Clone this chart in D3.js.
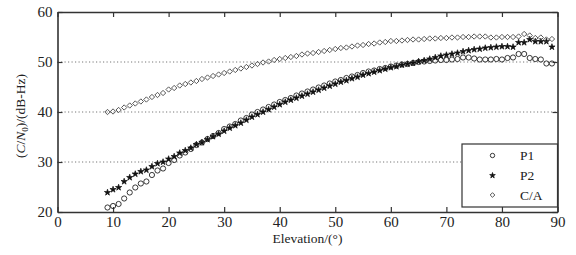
<!DOCTYPE html>
<html><head><meta charset="utf-8">
<script src="https://cdn.jsdelivr.net/npm/d3@7"></script>
<style>body{margin:0;background:#fff}svg{display:block}svg text{font-family:"Times New Roman","Liberation Serif",serif !important;fill:#222}</style>
</head><body><svg id="c" width="576" height="255" font-family="Liberation Serif"></svg>
<script>
const elevation = d3.range(9, 90);
const p1 = [20.9,21.2,21.6,22.7,23.9,24.9,25.7,26.1,27.4,28.3,28.7,29.8,30.4,31.3,31.9,32.6,33.4,33.9,34.6,35.2,35.8,36.6,37.1,37.6,38.3,38.8,39.5,40.0,40.5,41.0,41.5,42.0,42.4,42.8,43.3,43.7,44.1,44.5,44.9,45.3,45.7,46.1,46.4,46.8,47.1,47.4,47.8,48.1,48.3,48.6,48.8,49.1,49.3,49.5,49.6,49.8,50.0,50.1,50.2,50.3,50.4,50.4,50.5,50.6,50.9,50.9,50.7,50.5,50.5,50.5,50.6,50.5,50.8,50.9,51.6,51.6,50.8,50.6,50.5,49.7,49.7];
const p2 = [23.9,24.5,24.9,26.1,26.9,27.6,28.1,28.4,29.1,29.7,30.0,30.6,31.1,31.8,32.3,32.8,33.5,33.9,34.5,35.1,35.6,36.2,36.8,37.3,37.8,38.4,39.0,39.5,40.0,40.5,41.0,41.5,42.0,42.4,42.8,43.2,43.6,44.0,44.4,44.8,45.2,45.6,46.0,46.3,46.7,47.0,47.4,47.7,48.0,48.3,48.6,48.9,49.1,49.4,49.6,49.8,50.1,50.3,50.6,50.9,51.2,51.4,51.6,51.8,52.1,52.3,52.5,52.6,52.8,52.9,53.0,53.1,53.1,53.0,53.9,53.9,54.5,54.1,54.1,54.1,53.0];
const ca = [40.0,40.1,40.4,40.9,41.3,41.7,42.1,42.5,43.0,43.4,43.8,44.5,44.8,45.3,45.6,45.9,46.2,46.6,46.9,47.2,47.5,47.8,48.1,48.4,48.7,49.0,49.3,49.6,49.9,50.1,50.4,50.6,50.8,51.0,51.2,51.5,51.7,51.8,52.0,52.2,52.4,52.6,52.8,52.9,53.1,53.3,53.4,53.6,53.7,53.9,54.0,54.2,54.2,54.3,54.4,54.5,54.5,54.6,54.7,54.7,54.8,54.8,54.9,54.9,55.0,55.0,55.1,55.1,55.1,54.9,54.9,55.0,55.0,55.0,55.1,55.6,55.3,54.8,54.9,54.5,54.6];
const xTicks = [0,10,20,30,40,50,60,70,80,90];
const yTicks = [20,30,40,50,60];
const gridVals = [30,40,50];
const seriesNames = ["P1","P2","C/A"];

const svg = d3.select("#c");
const L=57.5, R=557.5, T=12, B=212;
const x = d3.scaleLinear().domain([0,90]).range([L,R]);
const y = d3.scaleLinear().domain([20,60]).range([B,T]);

svg.append("g").selectAll("line").data(gridVals).join("line")
  .attr("x1",L).attr("x2",R).attr("y1",d=>y(d)).attr("y2",d=>y(d))
  .attr("stroke","#777").attr("stroke-width",1).attr("stroke-dasharray","1.2,2.3");

const fs = 15;
const axB = svg.append("g").attr("transform",`translate(0,${B})`)
  .call(d3.axisBottom(x).tickValues(xTicks).tickSize(-5).tickPadding(4).tickSizeOuter(0));
const axT = svg.append("g").attr("transform",`translate(0,${T})`)
  .call(d3.axisTop(x).tickValues(xTicks).tickSize(-5).tickFormat("").tickSizeOuter(0));
const axL = svg.append("g").attr("transform",`translate(${L},0)`)
  .call(d3.axisLeft(y).tickValues(yTicks).tickSize(-5).tickPadding(5).tickSizeOuter(0));
const axR = svg.append("g").attr("transform",`translate(${R},0)`)
  .call(d3.axisRight(y).tickValues(yTicks).tickSize(-5).tickFormat("").tickSizeOuter(0));
[axB,axT,axL,axR].forEach(g=>{
  g.attr("font-family",null).attr("font-size",null);
  g.select(".domain").attr("stroke","#333").attr("stroke-width",1.6);
  g.selectAll(".tick line").attr("stroke","#333").attr("stroke-width",1.2);
  g.selectAll("text").attr("font-size",fs).attr("fill","#222");
});

const diaType = d3.symbolDiamond2 || d3.symbolDiamond;

svg.append("g").selectAll("circle").data(elevation).join("circle")
  .attr("cx",(d)=>x(d)).attr("cy",(d,i)=>y(p1[i])).attr("r",2.6)
  .attr("fill","none").attr("stroke","#222").attr("stroke-width",0.9);
const star = d3.symbol().type(d3.symbolStar).size(12);
svg.append("g").selectAll("path").data(elevation).join("path")
  .attr("transform",(d,i)=>`translate(${x(d)},${y(p2[i])})`).attr("d",star)
  .attr("fill","#111").attr("stroke","#111").attr("stroke-width",0.7);
const diamond = d3.symbol().type(diaType).size(18);
svg.append("g").selectAll("path").data(elevation).join("path")
  .attr("transform",(d,i)=>`translate(${x(d)},${y(ca[i])})`).attr("d",diamond)
  .attr("fill","none").attr("stroke","#444").attr("stroke-width",0.9);

const lg = svg.append("g");
lg.append("rect").attr("x",462).attr("y",144).attr("width",95.5).attr("height",63)
  .attr("fill","#fff").attr("stroke","#333").attr("stroke-width",1.2);
const ly = [155.5,175.5,195];
seriesNames.forEach((n,i)=>{
  const mx=492.5;
  if(i===0) lg.append("circle").attr("cx",mx).attr("cy",ly[i]).attr("r",2.2).attr("fill","none").attr("stroke","#222").attr("stroke-width",0.9);
  if(i===1) lg.append("path").attr("transform",`translate(${mx},${ly[i]})`).attr("d",d3.symbol().type(d3.symbolStar).size(10)).attr("fill","#111").attr("stroke","#111").attr("stroke-width",0.7);
  if(i===2) lg.append("path").attr("transform",`translate(${mx},${ly[i]})`).attr("d",d3.symbol().type(diaType).size(14)).attr("fill","none").attr("stroke","#444").attr("stroke-width",0.9);
  lg.append("text").attr("x",520).attr("y",ly[i]+4.5).attr("font-size",13.5).text(n);
});

svg.append("text").attr("x",307.5).attr("y",243).attr("text-anchor","middle").attr("font-size",13.5).text("Elevation/(°)");
svg.append("text").attr("transform",`translate(25,116) rotate(-90)`).attr("text-anchor","middle").attr("font-size",13.5)
  .html('(<tspan font-style="italic">C</tspan>/<tspan font-style="italic">N</tspan><tspan font-size="9" dy="3">0</tspan><tspan dy="-3">)/(dB-Hz)</tspan>');
</script></body></html>
